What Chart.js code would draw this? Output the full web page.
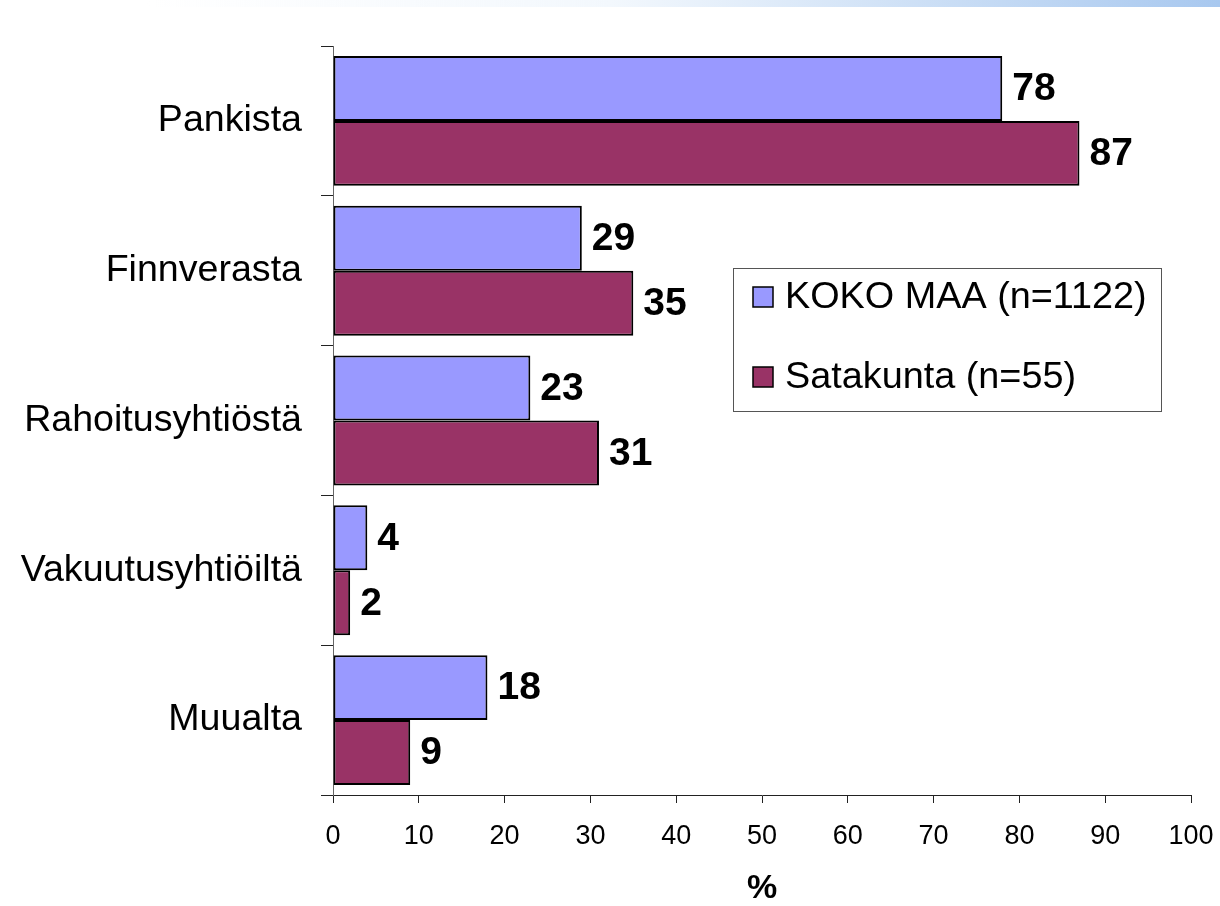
<!DOCTYPE html>
<html>
<head>
<meta charset="utf-8">
<script src="https://cdn.jsdelivr.net/npm/chart.js@4/dist/chart.umd.min.js"></script>
<style>
  html, body { margin: 0; padding: 0; background: #fff; }
  #wrap { position: relative; width: 1220px; height: 906px; }
  #band {
    position: absolute; left: 0; top: 0; width: 1220px; height: 7px;
    background: linear-gradient(to right, rgba(255,255,255,0) 12%, #f3f8fd 50%, #a8c8ef 100%);
  }
</style>
</head>
<body>
<div id="wrap">
  <div id="band"></div>
  <canvas id="barChart" width="1220" height="906"></canvas>
</div>
<script>
// Data
const categories = ['Pankista', 'Finnverasta', 'Rahoitusyhtiöstä', 'Vakuutusyhtiöiltä', 'Muualta'];
const seriesNames = ['KOKO MAA (n=1122)', 'Satakunta (n=55)'];
const kokoMaa = [78, 29, 23, 4, 18];
const satakunta = [87, 35, 31, 2, 9];
const xTicks = [0, 10, 20, 30, 40, 50, 60, 70, 80, 90, 100];

const FONT = '"Liberation Sans", Arial, sans-serif';
const blueColor = '#9999FF';
const redColor = '#993366';

// Draws the bold numbers at the end of each bar
const valueLabels = {
    id: 'valueLabels',
    afterDatasetsDraw(chart) {
        const ctx = chart.ctx;
        ctx.save();
        ctx.font = 'bold 39px ' + FONT;
        ctx.fillStyle = '#000';
        ctx.textAlign = 'left';
        ctx.textBaseline = 'middle';
        chart.data.datasets.forEach((ds, i) => {
            chart.getDatasetMeta(i).data.forEach((bar, j) => {
                ctx.fillText(ds.data[j], bar.x + 10, bar.y + 1);
            });
        });
        ctx.restore();
    }
};

// Boxed legend in the middle right of the plot
const boxLegend = {
    id: 'boxLegend',
    afterDraw(chart) {
        const ctx = chart.ctx;
        ctx.save();
        ctx.fillStyle = '#fff';
        ctx.fillRect(733, 268, 428, 143);
        ctx.strokeStyle = '#555';
        ctx.lineWidth = 1;
        ctx.strokeRect(733.5, 268.5, 428, 143);
        ctx.font = '37.8px ' + FONT;
        ctx.textBaseline = 'middle';
        chart.data.datasets.forEach((ds, i) => {
            const cy = 297 + i * 80;
            ctx.fillStyle = ds.backgroundColor;
            ctx.fillRect(753, cy - 10, 20, 20);
            ctx.strokeStyle = '#000';
            ctx.lineWidth = 1.5;
            ctx.strokeRect(753, cy - 10, 20, 20);
            ctx.fillStyle = '#000';
            ctx.fillText(ds.label, 785, cy + 1);
        });
        ctx.restore();
    }
};

const ctx = document.getElementById('barChart').getContext('2d');
const chart = new Chart(ctx, {
    type: 'bar',
    data: {
        labels: categories,
        datasets: [{
            label: seriesNames[0],
            data: kokoMaa,
            backgroundColor: blueColor,
            borderColor: '#000',
            borderWidth: 2,
            borderSkipped: false
        }, {
            label: seriesNames[1],
            data: satakunta,
            backgroundColor: redColor,
            borderColor: '#000',
            borderWidth: 2,
            borderSkipped: false
        }]
    },
    options: {
        indexAxis: 'y',
        responsive: false,
        animation: false,
        datasets: {
            bar: { categoryPercentage: 0.867, barPercentage: 1 }
        },
        layout: { padding: { top: 46, right: 29, left: 0, bottom: 0 } },
        scales: {
            x: {
                min: 0,
                max: 100,
                afterBuildTicks: scale => { scale.ticks = xTicks.map(v => ({ value: v })); },
                afterFit: scale => {
                    scale.height = 111;
                    scale.paddingLeft = 0;
                    scale.paddingRight = 0;
                },
                grid: { drawOnChartArea: false, tickLength: 8, color: '#222', tickColor: '#222' },
                border: { color: '#222', width: 1 },
                ticks: { color: '#000', font: { family: FONT, size: 27 }, padding: 17, maxRotation: 0 },
                title: {
                    display: true,
                    text: '%',
                    color: '#000',
                    font: { family: FONT, size: 34, weight: 'bold', lineHeight: 1.05 },
                    padding: 0
                }
            },
            y: {
                afterFit: scale => { scale.width = 333; },
                grid: { drawOnChartArea: false, tickLength: 12, color: '#222', tickColor: '#222', offset: true },
                border: { color: '#666', width: 1 },
                ticks: { color: '#000', font: { family: FONT, size: 37.6 }, padding: 19 }
            }
        },
        plugins: {
            legend: { display: false },
            tooltip: { enabled: false }
        }
    },
    plugins: [valueLabels, boxLegend]
});
</script>
</body>
</html>
